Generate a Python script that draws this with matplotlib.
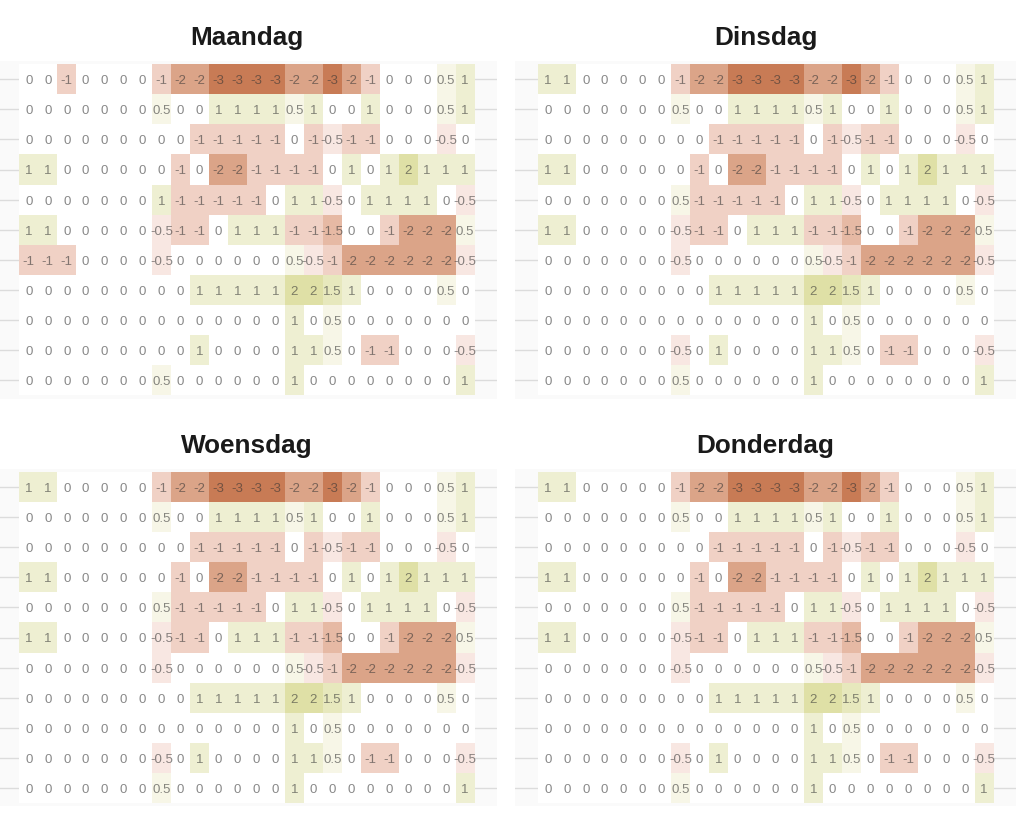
import matplotlib
matplotlib.use("Agg")
import numpy as np
import matplotlib.pyplot as plt
from matplotlib.colors import LinearSegmentedColormap

plt.rcParams["font.family"] = ["Liberation Sans", "DejaVu Sans"]

# values per day, 11 rows x 24 columns
maandag = [
    [0, 0, -1, 0, 0, 0, 0, -1, -2, -2, -3, -3, -3, -3, -2, -2, -3, -2, -1, 0, 0, 0, 0.5, 1],
    [0, 0, 0, 0, 0, 0, 0, 0.5, 0, 0, 1, 1, 1, 1, 0.5, 1, 0, 0, 1, 0, 0, 0, 0.5, 1],
    [0, 0, 0, 0, 0, 0, 0, 0, 0, -1, -1, -1, -1, -1, 0, -1, -0.5, -1, -1, 0, 0, 0, -0.5, 0],
    [1, 1, 0, 0, 0, 0, 0, 0, -1, 0, -2, -2, -1, -1, -1, -1, 0, 1, 0, 1, 2, 1, 1, 1],
    [0, 0, 0, 0, 0, 0, 0, 1, -1, -1, -1, -1, -1, 0, 1, 1, -0.5, 0, 1, 1, 1, 1, 0, -0.5],
    [1, 1, 0, 0, 0, 0, 0, -0.5, -1, -1, 0, 1, 1, 1, -1, -1, -1.5, 0, 0, -1, -2, -2, -2, 0.5],
    [-1, -1, -1, 0, 0, 0, 0, -0.5, 0, 0, 0, 0, 0, 0, 0.5, -0.5, -1, -2, -2, -2, -2, -2, -2, -0.5],
    [0, 0, 0, 0, 0, 0, 0, 0, 0, 1, 1, 1, 1, 1, 2, 2, 1.5, 1, 0, 0, 0, 0, 0.5, 0],
    [0, 0, 0, 0, 0, 0, 0, 0, 0, 0, 0, 0, 0, 0, 1, 0, 0.5, 0, 0, 0, 0, 0, 0, 0],
    [0, 0, 0, 0, 0, 0, 0, 0, 0, 1, 0, 0, 0, 0, 1, 1, 0.5, 0, -1, -1, 0, 0, 0, -0.5],
    [0, 0, 0, 0, 0, 0, 0, 0.5, 0, 0, 0, 0, 0, 0, 1, 0, 0, 0, 0, 0, 0, 0, 0, 1],
]
dinsdag = [
    [1, 1, 0, 0, 0, 0, 0, -1, -2, -2, -3, -3, -3, -3, -2, -2, -3, -2, -1, 0, 0, 0, 0.5, 1],
    [0, 0, 0, 0, 0, 0, 0, 0.5, 0, 0, 1, 1, 1, 1, 0.5, 1, 0, 0, 1, 0, 0, 0, 0.5, 1],
    [0, 0, 0, 0, 0, 0, 0, 0, 0, -1, -1, -1, -1, -1, 0, -1, -0.5, -1, -1, 0, 0, 0, -0.5, 0],
    [1, 1, 0, 0, 0, 0, 0, 0, -1, 0, -2, -2, -1, -1, -1, -1, 0, 1, 0, 1, 2, 1, 1, 1],
    [0, 0, 0, 0, 0, 0, 0, 0.5, -1, -1, -1, -1, -1, 0, 1, 1, -0.5, 0, 1, 1, 1, 1, 0, -0.5],
    [1, 1, 0, 0, 0, 0, 0, -0.5, -1, -1, 0, 1, 1, 1, -1, -1, -1.5, 0, 0, -1, -2, -2, -2, 0.5],
    [0, 0, 0, 0, 0, 0, 0, -0.5, 0, 0, 0, 0, 0, 0, 0.5, -0.5, -1, -2, -2, -2, -2, -2, -2, -0.5],
    [0, 0, 0, 0, 0, 0, 0, 0, 0, 1, 1, 1, 1, 1, 2, 2, 1.5, 1, 0, 0, 0, 0, 0.5, 0],
    [0, 0, 0, 0, 0, 0, 0, 0, 0, 0, 0, 0, 0, 0, 1, 0, 0.5, 0, 0, 0, 0, 0, 0, 0],
    [0, 0, 0, 0, 0, 0, 0, -0.5, 0, 1, 0, 0, 0, 0, 1, 1, 0.5, 0, -1, -1, 0, 0, 0, -0.5],
    [0, 0, 0, 0, 0, 0, 0, 0.5, 0, 0, 0, 0, 0, 0, 1, 0, 0, 0, 0, 0, 0, 0, 0, 1],
]
woensdag = [
    [1, 1, 0, 0, 0, 0, 0, -1, -2, -2, -3, -3, -3, -3, -2, -2, -3, -2, -1, 0, 0, 0, 0.5, 1],
    [0, 0, 0, 0, 0, 0, 0, 0.5, 0, 0, 1, 1, 1, 1, 0.5, 1, 0, 0, 1, 0, 0, 0, 0.5, 1],
    [0, 0, 0, 0, 0, 0, 0, 0, 0, -1, -1, -1, -1, -1, 0, -1, -0.5, -1, -1, 0, 0, 0, -0.5, 0],
    [1, 1, 0, 0, 0, 0, 0, 0, -1, 0, -2, -2, -1, -1, -1, -1, 0, 1, 0, 1, 2, 1, 1, 1],
    [0, 0, 0, 0, 0, 0, 0, 0.5, -1, -1, -1, -1, -1, 0, 1, 1, -0.5, 0, 1, 1, 1, 1, 0, -0.5],
    [1, 1, 0, 0, 0, 0, 0, -0.5, -1, -1, 0, 1, 1, 1, -1, -1, -1.5, 0, 0, -1, -2, -2, -2, 0.5],
    [0, 0, 0, 0, 0, 0, 0, -0.5, 0, 0, 0, 0, 0, 0, 0.5, -0.5, -1, -2, -2, -2, -2, -2, -2, -0.5],
    [0, 0, 0, 0, 0, 0, 0, 0, 0, 1, 1, 1, 1, 1, 2, 2, 1.5, 1, 0, 0, 0, 0, 0.5, 0],
    [0, 0, 0, 0, 0, 0, 0, 0, 0, 0, 0, 0, 0, 0, 1, 0, 0.5, 0, 0, 0, 0, 0, 0, 0],
    [0, 0, 0, 0, 0, 0, 0, -0.5, 0, 1, 0, 0, 0, 0, 1, 1, 0.5, 0, -1, -1, 0, 0, 0, -0.5],
    [0, 0, 0, 0, 0, 0, 0, 0.5, 0, 0, 0, 0, 0, 0, 1, 0, 0, 0, 0, 0, 0, 0, 0, 1],
]
donderdag = [
    [1, 1, 0, 0, 0, 0, 0, -1, -2, -2, -3, -3, -3, -3, -2, -2, -3, -2, -1, 0, 0, 0, 0.5, 1],
    [0, 0, 0, 0, 0, 0, 0, 0.5, 0, 0, 1, 1, 1, 1, 0.5, 1, 0, 0, 1, 0, 0, 0, 0.5, 1],
    [0, 0, 0, 0, 0, 0, 0, 0, 0, -1, -1, -1, -1, -1, 0, -1, -0.5, -1, -1, 0, 0, 0, -0.5, 0],
    [1, 1, 0, 0, 0, 0, 0, 0, -1, 0, -2, -2, -1, -1, -1, -1, 0, 1, 0, 1, 2, 1, 1, 1],
    [0, 0, 0, 0, 0, 0, 0, 0.5, -1, -1, -1, -1, -1, 0, 1, 1, -0.5, 0, 1, 1, 1, 1, 0, -0.5],
    [1, 1, 0, 0, 0, 0, 0, -0.5, -1, -1, 0, 1, 1, 1, -1, -1, -1.5, 0, 0, -1, -2, -2, -2, 0.5],
    [0, 0, 0, 0, 0, 0, 0, -0.5, 0, 0, 0, 0, 0, 0, 0.5, -0.5, -1, -2, -2, -2, -2, -2, -2, -0.5],
    [0, 0, 0, 0, 0, 0, 0, 0, 0, 1, 1, 1, 1, 1, 2, 2, 1.5, 1, 0, 0, 0, 0, 0.5, 0],
    [0, 0, 0, 0, 0, 0, 0, 0, 0, 0, 0, 0, 0, 0, 1, 0, 0.5, 0, 0, 0, 0, 0, 0, 0],
    [0, 0, 0, 0, 0, 0, 0, -0.5, 0, 1, 0, 0, 0, 0, 1, 1, 0.5, 0, -1, -1, 0, 0, 0, -0.5],
    [0, 0, 0, 0, 0, 0, 0, 0.5, 0, 0, 0, 0, 0, 0, 1, 0, 0, 0, 0, 0, 0, 0, 0, 1],
]

dagen = ["Maandag", "Dinsdag", "Woensdag", "Donderdag"]
waarden = [maandag, dinsdag, woensdag, donderdag]

# colour scale: -3 brown, 0 white, 2 olive
vmin, vmax = -3, 2
stops = [(-3, "#c87b55"), (-2, "#dba488"), (-1.5, "#e6b9a5"), (-1, "#f0d1c5"), (-0.5, "#f8e7e1"),
         (0, "#ffffff"), (0.5, "#f7f6e7"), (1, "#eeefd2"), (1.5, "#e7e8bd"), (2, "#dfe0a6")]
cmap = LinearSegmentedColormap.from_list(
    "dag", [((v - vmin) / (vmax - vmin), c) for v, c in stops], N=256)

W, H = 1024, 829
# panel box in pixels: left, top, right, bottom
panelen = [(0, 62, 497, 399.5), (515.3, 62, 1016, 399.5),
           (0, 470, 497, 807), (515.3, 470, 1016, 807)]

fig = plt.figure(figsize=(W / 100, H / 100), dpi=100, facecolor="white")

for naam, data, (l, t, r, b) in zip(dagen, waarden, panelen):
    data = np.array(data)
    ax = fig.add_axes([l / W, 1 - b / H, (r - l) / W, (b - t) / H], facecolor="#fafafa")

    # room around the cells, as fraction of a cell
    cel_w = 455.2 / 24
    cel_h = 331.2 / 11
    pad_l = (r - l - 455.2) * (19.3 / 41.8) if l == 0 else 23.0
    pad_r = (r - l - 455.2) - pad_l
    pad_y = (b - t - 331.2) / 2
    ax.set_xlim(-pad_l / cel_w, 24 + pad_r / cel_w)
    ax.set_ylim(11 + pad_y / cel_h, -pad_y / cel_h)

    for i in range(11):
        ax.axhline(i + 0.5, color="#dcdcdc", lw=1.0, zorder=1)

    ax.pcolormesh(np.arange(25), np.arange(12), data, cmap=cmap, vmin=vmin, vmax=vmax, zorder=2)

    for i in range(11):
        for j in range(24):
            ax.text(j + 0.5, i + 0.53, f"{data[i, j]:g}", ha="center", va="center",
                    fontsize=9.5, color="#333333", alpha=0.58, zorder=3)

    ax.set_xticks([])
    ax.set_yticks([])
    for s in ax.spines.values():
        s.set_visible(False)
    # left titles sit a little left of the panel centre
    ax.set_title(naam, fontsize=18.8, fontweight="bold", color="#1a1a1a", pad=12,
                 x=0.496 if l == 0 else 0.5)

fig.savefig("out.png", dpi=100, facecolor="white")
